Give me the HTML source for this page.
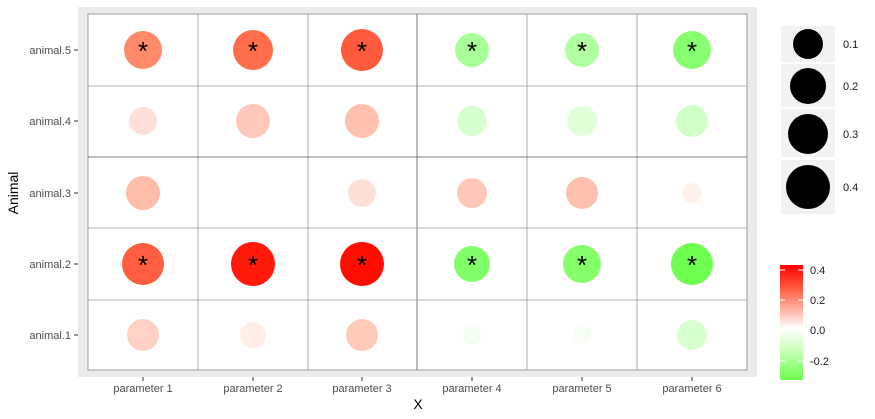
<!DOCTYPE html>
<html><head><style>body{margin:0;background:#fff}svg{display:block;font-family:"Liberation Sans",sans-serif}</style></head><body>
<svg width="875" height="419" viewBox="0 0 875 419">
<defs><linearGradient id="g" x1="0" y1="0" x2="0" y2="1">
<stop offset="0" stop-color="#ff0000"/><stop offset="0.2" stop-color="#ff5a3c"/><stop offset="0.55" stop-color="#ffffff"/><stop offset="0.75" stop-color="#c8ffb8"/><stop offset="1" stop-color="#6cff4c"/></linearGradient></defs>
<rect x="78" y="7" width="679" height="370" fill="#ebebeb"/>
<rect x="88" y="14" width="659" height="356" fill="#fff" stroke="#888" stroke-width="0.8"/>
<g stroke="#999" stroke-width="0.8">
<line x1="198" y1="14" x2="198" y2="370"/><line x1="308" y1="14" x2="308" y2="370"/><line x1="417" y1="14" x2="417" y2="370" stroke="#555"/><line x1="527" y1="14" x2="527" y2="370"/><line x1="637" y1="14" x2="637" y2="370"/>
<line x1="88" y1="86" x2="747" y2="86"/><line x1="88" y1="157" x2="747" y2="157" stroke="#555"/><line x1="88" y1="228" x2="747" y2="228"/><line x1="88" y1="300" x2="747" y2="300"/>
</g>
<g>
<circle cx="143" cy="50" r="19" fill="#ff8a6a"/><circle cx="253" cy="50" r="20" fill="#ff6d4d"/><circle cx="362" cy="50" r="21" fill="#ff5a3c"/><circle cx="472" cy="50" r="17" fill="#a8ff98"/><circle cx="582" cy="50" r="17" fill="#b0ffa0"/><circle cx="692" cy="50" r="19" fill="#88ff70"/>
<circle cx="143" cy="121" r="14" fill="#ffe0d8"/><circle cx="253" cy="121" r="17" fill="#ffc8b8"/><circle cx="362" cy="121" r="17" fill="#ffc0ae"/><circle cx="472" cy="121" r="15" fill="#d8ffd0"/><circle cx="582" cy="121" r="15" fill="#e0ffd8"/><circle cx="692" cy="121" r="16" fill="#d0ffc8"/>
<circle cx="143" cy="193" r="17" fill="#ffbca8"/><circle cx="362" cy="193" r="14" fill="#ffe0d6"/><circle cx="472" cy="193" r="15" fill="#ffc8b8"/><circle cx="582" cy="193" r="16" fill="#ffc0b0"/><circle cx="692" cy="193" r="10" fill="#fff0ec"/>
<circle cx="143" cy="264" r="21" fill="#ff5e40"/><circle cx="253" cy="264" r="22" fill="#ff1a0a"/><circle cx="362" cy="264" r="22" fill="#ff0e00"/><circle cx="472" cy="264" r="18" fill="#80ff68"/><circle cx="582" cy="264" r="19" fill="#84ff6a"/><circle cx="692" cy="264" r="21" fill="#6eff50"/>
<circle cx="143" cy="335" r="16" fill="#ffd0c4"/><circle cx="253" cy="335" r="13" fill="#ffeee8"/><circle cx="362" cy="335" r="16" fill="#ffcab8"/><circle cx="472" cy="335" r="9" fill="#f4fff2"/><circle cx="582" cy="335" r="9" fill="#f6fff4"/><circle cx="692" cy="335" r="15" fill="#d8ffd0"/>
</g>
<g font-size="26" text-anchor="middle" fill="#000">
<text x="143" y="60">*</text><text x="253" y="60">*</text><text x="362" y="60">*</text><text x="472" y="60">*</text><text x="582" y="60">*</text><text x="692" y="60">*</text>
<text x="143" y="274">*</text><text x="253" y="274">*</text><text x="362" y="274">*</text><text x="472" y="274">*</text><text x="582" y="274">*</text><text x="692" y="274">*</text>
</g>
<g stroke="#333" stroke-width="1"><line x1="74" y1="50" x2="78" y2="50"/><line x1="74" y1="121" x2="78" y2="121"/><line x1="74" y1="193" x2="78" y2="193"/><line x1="74" y1="264" x2="78" y2="264"/><line x1="74" y1="335" x2="78" y2="335"/>
<line x1="143" y1="377" x2="143" y2="381"/><line x1="253" y1="377" x2="253" y2="381"/><line x1="362" y1="377" x2="362" y2="381"/><line x1="472" y1="377" x2="472" y2="381"/><line x1="582" y1="377" x2="582" y2="381"/><line x1="692" y1="377" x2="692" y2="381"/></g>
<g font-size="11" fill="#4d4d4d" text-anchor="end"><text x="71" y="54">animal.5</text><text x="71" y="125">animal.4</text><text x="71" y="197">animal.3</text><text x="71" y="268">animal.2</text><text x="71" y="339">animal.1</text></g>
<g font-size="11" fill="#4d4d4d" text-anchor="middle"><text x="143" y="392">parameter 1</text><text x="253" y="392">parameter 2</text><text x="362" y="392">parameter 3</text><text x="472" y="392">parameter 4</text><text x="582" y="392">parameter 5</text><text x="692" y="392">parameter 6</text></g>
<text x="418" y="409" font-size="14" text-anchor="middle">X</text>
<text transform="translate(18,193) rotate(-90)" font-size="14" text-anchor="middle">Animal</text>
<g fill="#f2f2f2"><rect x="781" y="26" width="54" height="36"/><rect x="781" y="64" width="54" height="43"/><rect x="781" y="109" width="54" height="48"/><rect x="781" y="160" width="54" height="54"/></g>
<g fill="#000"><circle cx="808" cy="44" r="15"/><circle cx="808" cy="86" r="18"/><circle cx="808" cy="134" r="20"/><circle cx="808" cy="187" r="22"/></g>
<g font-size="11" fill="#1a1a1a"><text x="843" y="48">0.1</text><text x="843" y="90">0.2</text><text x="843" y="138">0.3</text><text x="843" y="191">0.4</text></g>
<rect x="780" y="265" width="23" height="115" fill="url(#g)"/>
<g stroke="#fff" stroke-width="1"><line x1="780" y1="270" x2="785" y2="270"/><line x1="798" y1="270" x2="803" y2="270"/><line x1="780" y1="300" x2="785" y2="300"/><line x1="798" y1="300" x2="803" y2="300"/><line x1="780" y1="330" x2="785" y2="330"/><line x1="798" y1="330" x2="803" y2="330"/><line x1="780" y1="361" x2="785" y2="361"/><line x1="798" y1="361" x2="803" y2="361"/></g>
<g font-size="11" fill="#1a1a1a"><text x="810" y="274">0.4</text><text x="810" y="304">0.2</text><text x="810" y="334">0.0</text><text x="810" y="365">-0.2</text></g>
</svg>
</body></html>
